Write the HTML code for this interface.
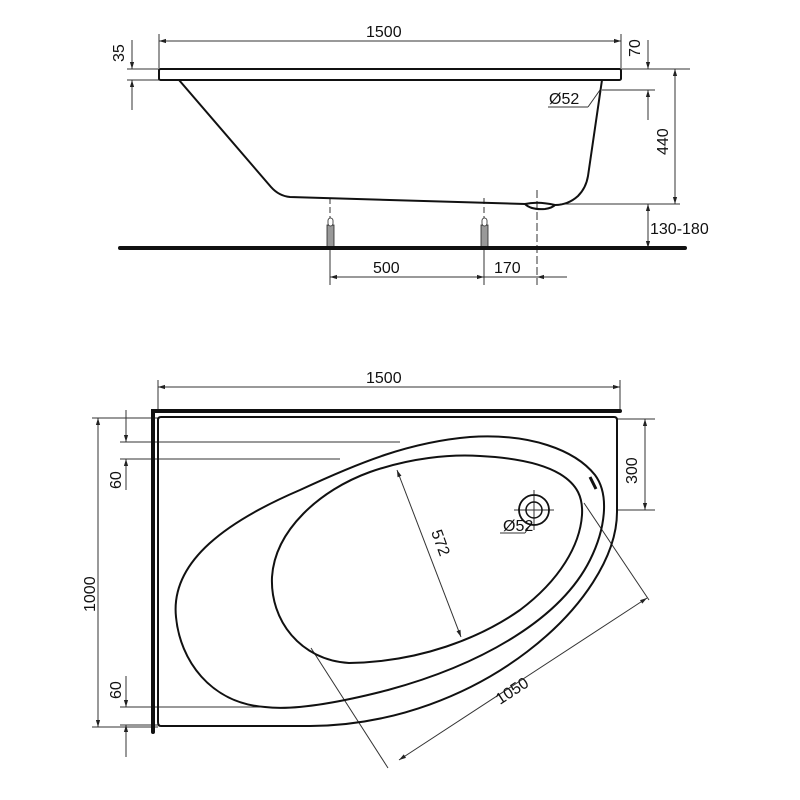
<!DOCTYPE html>
<html><head><meta charset="utf-8"><style>
html,body{margin:0;padding:0;background:#fff;}
svg{display:block}
text{font-family:"Liberation Sans",Arial,sans-serif;font-size:16px;fill:#111}
</style></head><body>
<svg width="800" height="800" viewBox="0 0 800 800">
<defs>
<marker id="a" viewBox="0 0 10 10" refX="10" refY="5" markerWidth="10" markerHeight="7" orient="auto-start-reverse" markerUnits="userSpaceOnUse"><path d="M0,2 L10,5 L0,8 z" fill="#222"/></marker>
</defs>
<g stroke="#333" stroke-width="1" fill="none">
<line x1="159" y1="41" x2="621" y2="41" marker-start="url(#a)" marker-end="url(#a)"/>
<line x1="159" y1="34" x2="159" y2="68"/><line x1="621" y1="34" x2="621" y2="68"/>
<line x1="127" y1="69" x2="159" y2="69"/><line x1="127" y1="80" x2="159" y2="80"/>
<line x1="132" y1="40" x2="132" y2="69" marker-end="url(#a)"/>
<line x1="132" y1="110" x2="132" y2="80" marker-end="url(#a)"/>
<line x1="621" y1="69" x2="690" y2="69"/><line x1="602" y1="90" x2="655" y2="90"/>
<line x1="648" y1="40" x2="648" y2="69" marker-end="url(#a)"/>
<line x1="648" y1="120" x2="648" y2="90" marker-end="url(#a)"/>
<line x1="675" y1="69" x2="675" y2="204" marker-start="url(#a)" marker-end="url(#a)"/>
<line x1="560" y1="204" x2="680" y2="204"/>
<line x1="648" y1="204" x2="648" y2="248" marker-start="url(#a)" marker-end="url(#a)"/>
<line x1="330" y1="250" x2="330" y2="285"/><line x1="484" y1="250" x2="484" y2="285"/>
<line x1="330" y1="277" x2="484" y2="277" marker-start="url(#a)" marker-end="url(#a)"/>
<line x1="484" y1="277" x2="537" y2="277"/>
<line x1="567" y1="277" x2="537" y2="277" marker-end="url(#a)"/>
<line x1="537" y1="190" x2="537" y2="285" stroke-dasharray="8,3"/>
<line x1="330" y1="198" x2="330" y2="222" stroke-dasharray="6,3"/>
<line x1="484" y1="198" x2="484" y2="222" stroke-dasharray="6,3"/>
<line x1="548" y1="107" x2="588" y2="107"/><line x1="588" y1="107" x2="600" y2="90"/>
</g>
<g stroke="#111" stroke-width="2" fill="none">
<rect x="159" y="69" width="462" height="11" rx="1.5"/>
<path d="M179,80 L271,187 Q279,196 290,197 L525,204 Q531,210 545,209 Q552,208 555,205 Q568,205 578,196 Q586,188 588,176 L602,80"/>
<path d="M525,204 Q538,201 555,205"/>
</g>
<g fill="#999" stroke="#222" stroke-width="0.8">
<rect x="327" y="225" width="7" height="22"/><rect x="481" y="225" width="7" height="22"/>
<rect x="328" y="218" width="5" height="8" rx="2.5" fill="#fff"/><rect x="482" y="218" width="5" height="8" rx="2.5" fill="#fff"/>
</g>
<line x1="120" y1="248" x2="685" y2="248" stroke="#111" stroke-width="4" stroke-linecap="round"/>
<text x="366" y="37">1500</text>
<text x="373" y="273">500</text>
<text x="494" y="273">170</text>
<text x="650" y="234">130-180</text>
<text x="549" y="104">Ø52</text>
<text transform="translate(124,62) rotate(-90)">35</text>
<text transform="translate(640,57) rotate(-90)">70</text>
<text transform="translate(668,155) rotate(-90)">440</text>

<g stroke="#333" stroke-width="1" fill="none">
<line x1="158" y1="387" x2="620" y2="387" marker-start="url(#a)" marker-end="url(#a)"/>
<line x1="158" y1="380" x2="158" y2="410"/><line x1="620" y1="380" x2="620" y2="410"/>
<line x1="92" y1="418" x2="158" y2="418"/><line x1="92" y1="727" x2="158" y2="727"/>
<line x1="98" y1="418" x2="98" y2="727" marker-start="url(#a)" marker-end="url(#a)"/>
<line x1="120" y1="442" x2="400" y2="442"/><line x1="120" y1="459" x2="340" y2="459"/>
<line x1="126" y1="410" x2="126" y2="442" marker-end="url(#a)"/>
<line x1="126" y1="490" x2="126" y2="459" marker-end="url(#a)"/>
<line x1="120" y1="707" x2="265" y2="707"/><line x1="120" y1="725" x2="158" y2="725"/>
<line x1="126" y1="676" x2="126" y2="707" marker-end="url(#a)"/>
<line x1="126" y1="757" x2="126" y2="725" marker-end="url(#a)"/>
<line x1="617" y1="419" x2="655" y2="419"/><line x1="617" y1="510" x2="655" y2="510"/>
<line x1="645" y1="419" x2="645" y2="510" marker-start="url(#a)" marker-end="url(#a)"/>
<line x1="397" y1="470" x2="461" y2="637" marker-start="url(#a)" marker-end="url(#a)"/>
<line x1="311" y1="648" x2="388" y2="768"/><line x1="584" y1="503" x2="649" y2="600"/>
<line x1="399" y1="760" x2="647" y2="598" marker-start="url(#a)" marker-end="url(#a)"/>
<line x1="534" y1="490" x2="534" y2="530"/><line x1="514" y1="510" x2="554" y2="510"/>
<line x1="500" y1="533" x2="525" y2="533"/><line x1="525" y1="533" x2="532" y2="522"/>
</g>
<g stroke="#111" fill="none">
<path d="M153,732 L153,411 L620,411" stroke-width="4" stroke-linecap="round"/>
<path d="M158,722 L158,420 Q158,417 161,417 L614,417 Q617,417 617,420 L617,512 C617,600 480,725 310,726 L161,726 Q158,726 158,722" stroke-width="2"/>
<path d="M176,617 C170,560 230,520 300,490 C360,462 410,442 470,437 C530,433 575,450 595,475 C610,495 605,530 590,560 C560,620 480,665 388,690 C330,705 290,710 265,707 C210,703 180,660 176,617 Z" stroke-width="2"/>
<path d="M349,663 C300,660 270,620 272,577 C275,530 320,490 370,472 C410,458 450,454 480,456 C520,458 545,465 560,474 C578,485 583,498 582,515 C580,545 560,580 520,610 C480,638 420,662 349,663 Z" stroke-width="2"/>
<path d="M590,477 L596,489" stroke-width="3"/>
<circle cx="534" cy="510" r="15" stroke-width="1.8"/>
<circle cx="534" cy="510" r="8" stroke-width="1.5"/>
</g>
<text x="366" y="383">1500</text>
<text x="503" y="531">Ø52</text>
<text transform="translate(95,612) rotate(-90)">1000</text>
<text transform="translate(121,489) rotate(-90)">60</text>
<text transform="translate(121,699) rotate(-90)">60</text>
<text transform="translate(637,484) rotate(-90)">300</text>
<text transform="translate(431,532) rotate(70)">572</text>
<text transform="translate(500,705) rotate(-33)">1050</text>
</svg>
</body></html>
